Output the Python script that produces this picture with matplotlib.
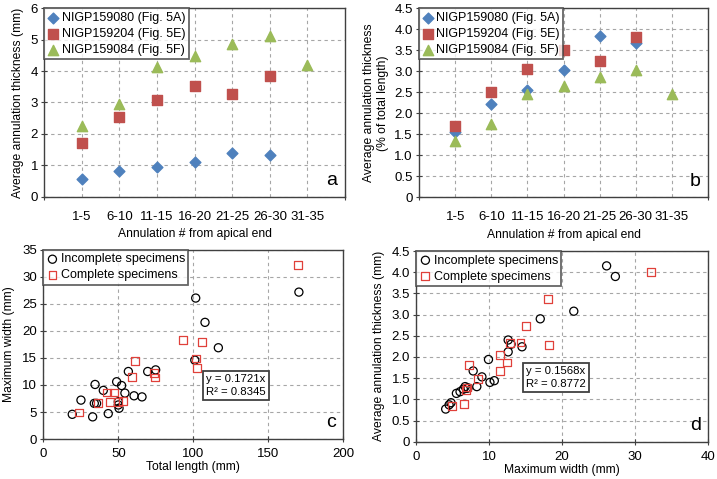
import numpy as np
import matplotlib.pyplot as plt

plt.rcParams['font.family'] = ['Liberation Sans', 'DejaVu Sans']
plt.rcParams['font.size'] = 9

# panels a and b: annulation groups
groups = ['1-5', '6-10', '11-15', '16-20', '21-25', '26-30', '31-35']
a_5a = [0.56, 0.81, 0.94, 1.11, 1.40, 1.34]
a_5e = [1.71, 2.53, 3.09, 3.54, 3.28, 3.84]
a_5f = [2.25, 2.94, 4.14, 4.49, 4.85, 5.13, 4.18]
b_5a = [1.55, 2.21, 2.56, 3.04, 3.84, 3.67]
b_5e = [1.70, 2.50, 3.06, 3.50, 3.25, 3.82]
b_5f = [1.33, 1.75, 2.45, 2.66, 2.87, 3.02, 2.45]

# panel c: total length vs maximum width
c_inc_len = [19.3, 25.1, 32.9, 34.5, 34.0, 40.0, 43.3, 48.9, 52.2, 50.0, 50.0, 50.5,
             54.4, 60.5, 65.8, 56.7, 69.6, 74.9, 35.5, 101.6, 101.0, 107.8, 116.7, 170.4]
c_inc_wid = [4.57, 7.2, 4.1, 10.1, 6.6, 9.0, 4.7, 10.6, 9.9, 6.9, 6.3, 5.7,
             8.5, 8.0, 7.8, 12.5, 12.5, 12.8, 6.6, 26.1, 14.6, 21.6, 16.9, 27.2]
c_com_len = [23.8, 36.2, 42.2, 47.3, 44.5, 49.6, 53.3, 61.1, 58.9, 74.0, 74.5,
             93.3, 105.6, 101.6, 102.2, 170.0]
c_com_wid = [4.9, 6.6, 8.6, 8.6, 6.9, 6.9, 7.1, 14.4, 11.5, 12.3, 11.4,
             18.3, 18.0, 14.9, 13.1, 32.2]

# panel d: maximum width vs annulation thickness
d_inc_wid = [4.03, 4.5, 4.76, 5.5, 6.0, 6.45, 6.7, 6.9, 7.1, 7.8, 8.3, 9.0, 9.9, 10.1,
             10.7, 12.6, 12.6, 13.0, 14.5, 17.0, 21.6, 26.1, 27.3]
d_inc_thk = [0.77, 0.87, 0.92, 1.14, 1.18, 1.24, 1.30, 1.26, 1.27, 1.67, 1.30, 1.53, 1.94, 1.40,
             1.44, 2.40, 2.12, 2.30, 2.24, 2.90, 3.08, 4.15, 3.90]
d_com_wid = [4.85, 6.5, 7.2, 6.9, 8.5, 11.5, 12.4, 11.5, 12.9, 14.3, 18.2, 15.0, 18.1, 32.2, 6.8]
d_com_thk = [0.84, 0.89, 1.81, 1.28, 1.47, 2.05, 1.87, 1.67, 2.32, 2.34, 2.29, 2.73, 3.37, 4.01, 1.22]

blue = '#4F81BD'
red = '#C0504D'
green = '#9BBB59'
sq_red = '#E0403A'

fig = plt.figure(figsize=(7.17, 4.79), dpi=100)
ax_a = fig.add_axes([0.0618, 0.5894, 0.4194, 0.3933])
ax_b = fig.add_axes([0.5844, 0.5881, 0.4031, 0.3946])
ax_c = fig.add_axes([0.0604, 0.0835, 0.4184, 0.3946])
ax_d = fig.add_axes([0.5806, 0.0779, 0.4068, 0.3980])


def style(ax):
    ax.grid(True, linestyle=(0, (3, 3)), color='#A6A6A6', linewidth=0.8)
    ax.set_axisbelow(True)
    for s in ax.spines.values():
        s.set_color('#404040')
        s.set_linewidth(1.0)
    ax.tick_params(direction='inout', length=5, width=0.8, color='#404040',
                   labelsize=9.5, pad=2)


def leg(ax):
    lg = ax.legend(loc='upper left', bbox_to_anchor=(0, 1), fontsize=9,
                   frameon=True, fancybox=False, borderaxespad=0,
                   handletextpad=0.2, handlelength=0.9, borderpad=0.28,
                   labelspacing=0.32)
    lg.get_frame().set_edgecolor('#404040')
    lg.get_frame().set_linewidth(1.3)
    return lg


def fit_box(ax, x, y, txt):
    ax.text(x, y, txt, fontsize=8.2, va='center', ha='left', linespacing=1.35,
            bbox=dict(boxstyle='square,pad=0.28', facecolor='white',
                      edgecolor='#404040', linewidth=1.3))


x_a = np.arange(1, len(groups) + 1)
for ax, s1, s2, s3 in [(ax_a, a_5a, a_5e, a_5f), (ax_b, b_5a, b_5e, b_5f)]:
    style(ax)
    ax.scatter(x_a[:len(s1)], s1, marker='D', s=30, color=blue, label='NIGP159080 (Fig. 5A)', zorder=3)
    ax.scatter(x_a[:len(s2)], s2, marker='s', s=55, color=red, label='NIGP159204 (Fig. 5E)', zorder=3)
    ax.scatter(x_a[:len(s3)], s3, marker='^', s=55, color=green, label='NIGP159084 (Fig. 5F)', zorder=3)
    ax.set_xlim(0, 8)
    ax.set_xticks(x_a)
    ax.set_xticklabels(groups)
    ax.set_xticks(np.arange(0, 9), minor=True)
    ax.tick_params(axis='x', which='major', length=0, pad=10)
    ax.tick_params(axis='x', which='minor', direction='inout', length=5, width=0.8, color='#404040')
    ax.set_xlabel('Annulation # from apical end', fontsize=8.7, labelpad=4)
    leg(ax)

ax_a.set_ylim(0, 6)
ax_a.set_yticks(np.arange(0, 7, 1))
ax_a.set_ylabel('Average annulation thickness (mm)', fontsize=8.7, labelpad=5)
ax_a.text(0.975, 0.04, 'a', transform=ax_a.transAxes, ha='right', va='bottom', fontsize=14)

ax_b.set_ylim(0, 4.5)
ax_b.set_yticks(np.arange(0, 4.6, 0.5))
ax_b.set_yticklabels(['0'] + ['%.1f' % v for v in np.arange(0.5, 4.6, 0.5)])
ax_b.set_ylabel('Average annulation thickness\n(% of total length)', fontsize=8.7, labelpad=4)
ax_b.text(0.975, 0.04, 'b', transform=ax_b.transAxes, ha='right', va='bottom', fontsize=14)

# panel c
style(ax_c)
ax_c.scatter(c_inc_len, c_inc_wid, marker='o', s=34, facecolors='none', edgecolors='black',
             linewidths=0.9, label='Incomplete specimens', zorder=3)
ax_c.scatter(c_com_len, c_com_wid, marker='s', s=32, facecolors='none', edgecolors=sq_red,
             linewidths=0.9, label='Complete specimens', zorder=3)
ax_c.set_xlim(0, 200)
ax_c.set_ylim(0, 35)
ax_c.set_xticks([0, 50, 100, 150, 200])
ax_c.set_yticks(np.arange(0, 36, 5))
ax_c.tick_params(axis='x', pad=4)
ax_c.set_xlabel('Total length (mm)', fontsize=8.7, labelpad=1)
ax_c.set_ylabel('Maximum width (mm)', fontsize=8.7, labelpad=5)
leg(ax_c)
fit_box(ax_c, 108.5, 9.95, 'y = 0.1721x\nR\u00b2 = 0.8345')
ax_c.text(0.975, 0.04, 'c', transform=ax_c.transAxes, ha='right', va='bottom', fontsize=14)

# panel d
style(ax_d)
ax_d.scatter(d_inc_wid, d_inc_thk, marker='o', s=34, facecolors='none', edgecolors='black',
             linewidths=0.9, label='Incomplete specimens', zorder=3)
ax_d.scatter(d_com_wid, d_com_thk, marker='s', s=32, facecolors='none', edgecolors=sq_red,
             linewidths=0.9, label='Complete specimens', zorder=3)
ax_d.set_xlim(0, 40)
ax_d.set_ylim(0, 4.5)
ax_d.set_xticks([0, 10, 20, 30, 40])
ax_d.set_yticks(np.arange(0, 4.6, 0.5))
ax_d.set_yticklabels(['0'] + ['%.1f' % v for v in np.arange(0.5, 4.6, 0.5)])
ax_d.tick_params(axis='x', pad=4)
ax_d.set_xlabel('Maximum width (mm)', fontsize=8.7, labelpad=1)
ax_d.set_ylabel('Average annulation thickness (mm)', fontsize=8.7, labelpad=5)
leg(ax_d)
fit_box(ax_d, 15.1, 1.52, 'y = 0.1568x\nR\u00b2 = 0.8772')
ax_d.text(0.975, 0.04, 'd', transform=ax_d.transAxes, ha='right', va='bottom', fontsize=14)

fig.savefig('out.png', dpi=100)
